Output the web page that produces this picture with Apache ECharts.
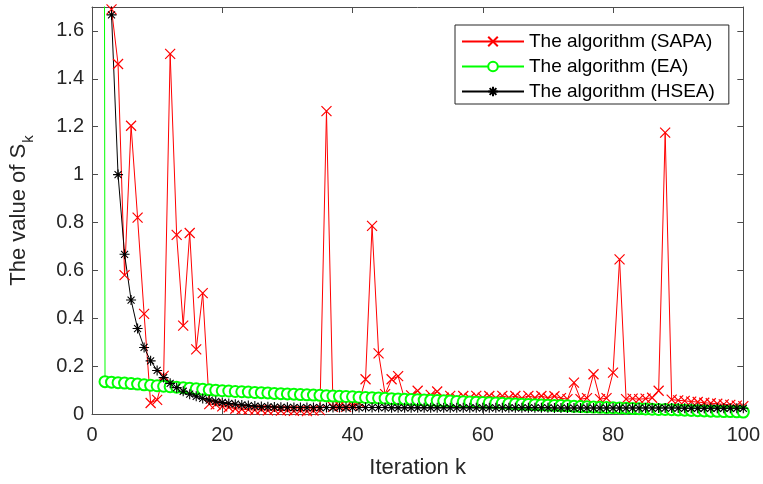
<!DOCTYPE html>
<html><head><meta charset="utf-8">
<script src="https://cdn.jsdelivr.net/npm/echarts@6/dist/echarts.min.js"></script>
<style>html,body{margin:0;padding:0;background:#fff}#c{width:763px;height:484px}</style>
</head><body><div id="c"></div>
<script>
var iterations = [1,2,3,4,5,6,7,8,9,10,11,12,13,14,15,16,17,18,19,20,21,22,23,24,25,26,27,28,29,30,31,32,33,34,35,36,37,38,39,40,41,42,43,44,45,46,47,48,49,50,51,52,53,54,55,56,57,58,59,60,61,62,63,64,65,66,67,68,69,70,71,72,73,74,75,76,77,78,79,80,81,82,83,84,85,86,87,88,89,90,91,92,93,94,95,96,97,98,99,100];
var sapa = [6.0,3.2,1.69,1.462,0.580,1.204,0.820,0.418,0.046,0.059,
0.159,1.504,0.748,0.369,0.756,0.270,0.505,0.041,0.040,0.032,
0.028,0.022,0.020,0.018,0.016,0.019,0.015,0.017,0.014,0.016,
0.013,0.015,0.012,0.014,0.016,1.265,0.030,0.034,0.030,0.036,
0.048,0.145,0.786,0.253,0.083,0.145,0.158,0.062,0.078,0.097,
0.066,0.080,0.094,0.068,0.076,0.066,0.075,0.067,0.076,0.068,
0.075,0.067,0.076,0.068,0.075,0.066,0.076,0.068,0.075,0.067,
0.074,0.066,0.062,0.131,0.062,0.066,0.166,0.062,0.066,0.173,
0.646,0.062,0.064,0.062,0.064,0.068,0.097,1.175,0.060,0.057,
0.055,0.052,0.050,0.047,0.045,0.043,0.040,0.038,0.035,0.033];
var ea = [20.0,0.135,0.133,0.131,0.129,0.127,0.125,0.122,0.120,0.118,
0.116,0.114,0.112,0.110,0.108,0.105,0.103,0.101,0.099,0.097,
0.096,0.094,0.093,0.092,0.090,0.089,0.088,0.086,0.085,0.084,
0.083,0.081,0.080,0.079,0.078,0.076,0.075,0.074,0.073,0.072,
0.070,0.069,0.068,0.067,0.066,0.064,0.063,0.062,0.061,0.060,
0.058,0.057,0.056,0.055,0.054,0.052,0.051,0.050,0.049,0.048,
0.047,0.046,0.045,0.043,0.042,0.041,0.040,0.039,0.038,0.037,
0.036,0.035,0.034,0.032,0.031,0.030,0.029,0.028,0.027,0.026,
0.025,0.024,0.023,0.022,0.021,0.020,0.019,0.019,0.018,0.017,
0.016,0.015,0.014,0.013,0.012,0.011,0.010,0.010,0.009,0.008];
var hsea = [10.0,3.33,1.667,1.0,0.667,0.476,0.357,0.278,0.222,0.182,
0.152,0.128,0.110,0.095,0.083,0.074,0.065,0.058,0.053,0.048,
0.044,0.041,0.038,0.035,0.033,0.031,0.030,0.029,0.028,0.028,
0.027,0.027,0.027,0.027,0.027,0.027,0.027,0.027,0.027,0.027,
0.027,0.027,0.027,0.027,0.027,0.026,0.026,0.026,0.026,0.026,
0.026,0.026,0.026,0.026,0.026,0.026,0.026,0.026,0.026,0.026,
0.026,0.026,0.026,0.026,0.026,0.026,0.026,0.026,0.026,0.026,
0.025,0.025,0.025,0.025,0.025,0.025,0.025,0.025,0.025,0.025,
0.025,0.025,0.025,0.025,0.025,0.025,0.025,0.025,0.025,0.025,
0.024,0.024,0.024,0.024,0.024,0.024,0.024,0.024,0.024,0.024];
var seriesNames = ['The algorithm (SAPA)','The algorithm (EA)','The algorithm (HSEA)'];
var xTitle = 'Iteration k';

function pairs(vals){ return iterations.map(function(k,i){ return [k, vals[i]]; }); }

var FONT = 'Liberation Sans, Arial, Helvetica, sans-serif';
var AX = '#4d4d4d';
var TXT = '#262626';
var chart = echarts.init(document.getElementById('c'), null, {renderer:'canvas'});
chart.setOption({
  animation:false,
  backgroundColor:'#fff',
  grid:{left:87,right:18,top:7,bottom:69,containLabel:false},
  legend:{
    orient:'vertical', left:455, top:25,
    data:seriesNames,
    itemWidth:62, itemHeight:12, itemGap:6,
    backgroundColor:'#fff', borderColor:TXT, borderWidth:1,
    padding:[7,14,3,6],
    textStyle:{fontFamily:FONT,fontSize:19,color:'#000',lineHeight:18},
    selectedMode:false
  },
  xAxis:[{
    type:'value', min:0, max:100, interval:20,
    name:xTitle, nameLocation:'middle', nameGap:43,
    nameTextStyle:{fontFamily:FONT,fontSize:22,color:TXT},
    axisLine:{show:true,onZero:false,lineStyle:{color:AX,width:1}},
    axisTick:{show:true,inside:true,length:6,lineStyle:{color:AX}},
    axisLabel:{fontFamily:FONT,fontSize:20,color:TXT,margin:11},
    splitLine:{show:false}
  },{
    type:'value', position:'top', min:0, max:100, interval:20,
    axisLine:{show:true,onZero:false,lineStyle:{color:AX,width:1}},
    axisTick:{show:true,inside:true,length:6,lineStyle:{color:AX}},
    axisLabel:{show:false}, splitLine:{show:false}
  }],
  yAxis:[{
    type:'value', min:0, max:1.7, interval:0.2,
    name:'{a|The value of S}{b|k}', nameLocation:'middle', nameGap:56, nameRotate:90,
    nameTextStyle:{fontFamily:FONT,color:TXT,
      rich:{a:{fontFamily:FONT,fontSize:22,color:TXT,lineHeight:28,verticalAlign:'top'},
            b:{fontFamily:FONT,fontSize:15,color:TXT,lineHeight:28,verticalAlign:'bottom',padding:[11,0,0,1]}}},
    axisLine:{show:true,onZero:false,lineStyle:{color:AX,width:1}},
    axisTick:{show:true,inside:true,length:6,lineStyle:{color:AX}},
    axisLabel:{fontFamily:FONT,fontSize:20,color:TXT,margin:8,showMaxLabel:false},
    splitLine:{show:false}
  },{
    type:'value', position:'right', min:0, max:1.7, interval:0.2,
    axisLine:{show:true,onZero:false,lineStyle:{color:AX,width:1}},
    axisTick:{show:true,inside:true,length:6,lineStyle:{color:AX}},
    axisLabel:{show:false}, splitLine:{show:false}
  }],
  series:[{
    name:seriesNames[0], type:'line', data:pairs(sapa), xAxisIndex:0, yAxisIndex:0,
    symbol:'path://M0,0L10,10M10,0L0,10', symbolSize:10,
    color:'#ff0000',
    lineStyle:{color:'#ff0000',width:1},
    itemStyle:{color:'#ff0000',borderColor:'#ff0000',borderWidth:1.2},
    emphasis:{disabled:true}, clip:true
  },{
    name:seriesNames[1], type:'line', data:pairs(ea), xAxisIndex:0, yAxisIndex:0,
    symbol:'emptyCircle', symbolSize:11,
    color:'#00ff00',
    lineStyle:{color:'#00ff00',width:1},
    itemStyle:{color:'#00ff00',borderColor:'#00ff00',borderWidth:1.2},
    emphasis:{disabled:true}, clip:true
  },{
    name:seriesNames[2], type:'line', data:pairs(hsea), xAxisIndex:0, yAxisIndex:0,
    symbol:'path://M5,0L5,10M0,5L10,5M1.5,1.5L8.5,8.5M8.5,1.5L1.5,8.5', symbolSize:10,
    color:'#000000',
    lineStyle:{color:'#000000',width:1},
    itemStyle:{color:'#000000',borderColor:'#000000',borderWidth:1.1},
    emphasis:{disabled:true}, clip:true
  }]
});
</script></body></html>
